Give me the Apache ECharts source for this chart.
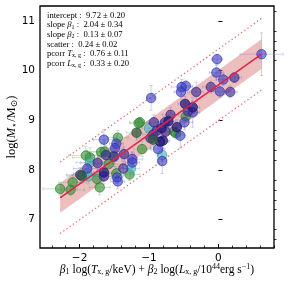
<!DOCTYPE html>
<html><head><meta charset="utf-8">
<script src="https://cdn.jsdelivr.net/npm/echarts@6/dist/echarts.min.js"></script>
<style>html,body{margin:0;padding:0;background:#fff}#c{width:288px;height:287px}</style>
</head><body><div id="c"></div>
<script>
// ---- data ----
const xTicks = [-2, -1, 0];
const yTicks = [7, 8, 9, 10, 11];
const fitX = [-2.28, 0.62];
const fitY = [7.44, 10.33];
const bandHalfWidth = 0.30;
const scatterBand = 0.72;

const blueX  = [0.62,-0.02,-0.03,0.07,0.02,-0.97,-0.47,-0.53,-0.54,-0.37,-0.49,-0.55,-0.87,-0.81,-1.24,-1.24,-1.47,-1.49,-1.46,-1.45,-1.65,-1.89];
const blueY  = [10.33,10.23,9.96,9.82,9.58,9.45,9.69,9.67,9.57,9.16,8.96,8.69,8.42,8.18,8.22,8.15,8.53,8.44,7.85,7.77,8.61,8.03];
const blueXe = [0.31,0.08,0.10,0.10,0.12,0.05,0.10,0.15,0.10,0.10,0.12,0.08,0.10,0.06,0.15,0.10,0.10,0.12,0.08,0.10,0.15,0.20];
const blueYe = [0.43,0.10,0.15,0.12,0.12,0.25,0.12,0.15,0.20,0.30,0.15,0.25,0.20,0.25,0.15,0.20,0.15,0.20,0.12,0.15,0.20,0.20];

const purpX  = [0.23,-0.11,0.17,-0.32,-0.44,-0.69,-0.77,-0.76,-0.93,-0.89,-0.94,-0.98,-1.36,-1.37,-1.50,-1.62,-1.74,-1.65,-1.99];
const purpY  = [9.86,9.67,9.57,9.57,9.18,9.11,8.96,8.77,8.96,8.79,8.71,8.64,8.32,8.03,8.27,8.30,8.14,7.87,7.90];
const purpXe = [0.10,0.12,0.10,0.10,0.10,0.12,0.10,0.15,0.10,0.12,0.15,0.20,0.15,0.12,0.15,0.20,0.25,0.15,0.20];
const purpYe = [0.10,0.12,0.12,0.20,0.12,0.15,0.12,0.15,0.15,0.18,0.15,0.20,0.15,0.15,0.20,0.20,0.20,0.15,0.15];

const navyX  = [-0.48,-0.37,-0.60,-0.72,-0.82,-0.80,-0.84,-1.65];
const navyY  = [9.33,9.26,8.86,8.98,8.84,8.59,8.57,7.95];
const navyXe = [0.10,0.10,0.12,0.10,0.10,0.10,0.12,0.15];
const navyYe = [0.15,0.12,0.15,0.12,0.15,0.15,0.15,0.15];

const greenX  = [-0.47,-0.64,-0.61,-1.13,-1.15,-1.10,-1.28,-1.45,-1.52,-1.58,-1.47,-1.64,-1.69,-1.75,-1.71,-1.85,-1.91,-2.10,-2.13,-2.28];
const greenY  = [9.08,8.77,8.74,8.96,8.94,8.42,7.91,8.65,8.27,8.12,7.93,8.37,8.36,7.82,7.65,8.25,8.29,7.75,7.60,7.62];
const greenXe = [0.08,0.10,0.10,0.15,0.12,0.12,0.15,0.15,0.20,0.20,0.15,0.25,0.20,0.20,0.15,0.25,0.25,0.20,0.20,0.25];
const greenYe = [0.10,0.12,0.12,0.10,0.10,0.15,0.12,0.15,0.20,0.20,0.15,0.20,0.18,0.20,0.15,0.20,0.18,0.15,0.12,0.12];

const olivX  = [-0.94,-1.18,-1.97];
const olivY  = [8.61,8.75,7.88];
const olivXe = [0.10,0.15,0.20];
const olivYe = [0.15,0.15,0.15];

const tealX  = [-0.81,-1.26,-1.85,-1.89,-1.87,-1.00];
const tealY  = [8.30,8.03,8.15,7.93,7.87,8.84];
const tealXe = [0.06,0.12,0.20,0.20,0.15,0.10];
const tealYe = [0.20,0.15,0.15,0.15,0.15,0.15];

const groups = [
  {name:'green', X:greenX, Y:greenY, XE:greenXe, YE:greenYe, fill:'rgba(55,145,55,0.62)', edge:'rgba(40,120,40,0.8)', err:'rgba(110,175,110,0.35)'},
  {name:'teal',  X:tealX,  Y:tealY,  XE:tealXe,  YE:tealYe,  fill:'rgba(75,185,190,0.62)', edge:'rgba(50,155,165,0.8)', err:'rgba(100,180,190,0.35)'},
  {name:'blue',  X:blueX,  Y:blueY,  XE:blueXe,  YE:blueYe,  fill:'rgba(60,60,195,0.62)', edge:'rgba(45,45,170,0.8)', err:'rgba(120,120,215,0.35)'},
  {name:'purp',  X:purpX,  Y:purpY,  XE:purpXe,  YE:purpYe,  fill:'rgba(65,45,150,0.65)', edge:'rgba(50,35,130,0.8)', err:'rgba(130,120,210,0.35)'},
  {name:'navy',  X:navyX,  Y:navyY,  XE:navyXe,  YE:navyYe,  fill:'rgba(35,25,125,0.75)', edge:'rgba(25,15,100,0.85)', err:'rgba(120,120,210,0.35)'},
  {name:'oliv',  X:olivX,  Y:olivY,  XE:olivXe,  YE:olivYe,  fill:'rgba(45,95,60,0.75)', edge:'rgba(35,75,45,0.85)', err:'rgba(110,170,110,0.35)'}
];

// ---- chart ----
const chart = echarts.init(document.getElementById('c'), null, {renderer:'canvas'});
const serif = '"Liberation Serif","DejaVu Serif",serif';
const sans = '"DejaVu Sans",sans-serif';
const XMIN=-2.57, XMAX=0.80, YMIN=6.43, YMAX=11.3;
const G = {left:40, right:14, top:6, bottom:39};
const gridW = 288 - G.left - G.right, gridH = 287 - G.top - G.bottom;
function minors(a,b,step){const r=[];for(let v=Math.ceil(a/step-1e-9)*step;v<=b+1e-9;v+=step){const k=Math.round(v*100)/100;if(Math.abs(k-Math.round(k))>1e-6)r.push(k);}return r;}

const series = [];
// band
series.push({
  type:'custom', z:1, silent:true,
  data:[[fitX[0],fitY[0],fitX[1],fitY[1]]],
  renderItem:function(p,api){
    const x0=api.value(0),y0=api.value(1),x1=api.value(2),y1=api.value(3);
    const pts=[api.coord([x0,y0+bandHalfWidth]),api.coord([x1,y1+bandHalfWidth]),api.coord([x1,y1-bandHalfWidth]),api.coord([x0,y0-bandHalfWidth])];
    return {type:'polygon',shape:{points:pts},style:{fill:'rgba(215,110,110,0.45)'}};
  }
});
// error bars
groups.forEach(g=>{
  const data=g.X.map((x,i)=>[x,g.Y[i],g.XE[i],g.YE[i]]);
  series.push({
    type:'custom', z:2, silent:true, data:data,
    renderItem:function(p,api){
      const x=api.value(0),y=api.value(1),xe=api.value(2),ye=api.value(3);
      const l=api.coord([x-xe,y]),r=api.coord([x+xe,y]),t=api.coord([x,y+ye]),b=api.coord([x,y-ye]);
      const st={stroke:g.err,lineWidth:1};
      const c=1.6;
      return {type:'group',children:[
        {type:'line',shape:{x1:l[0],y1:l[1],x2:r[0],y2:r[1]},style:st},
        {type:'line',shape:{x1:t[0],y1:t[1],x2:b[0],y2:b[1]},style:st},
        {type:'line',shape:{x1:l[0],y1:l[1]-c,x2:l[0],y2:l[1]+c},style:st},
        {type:'line',shape:{x1:r[0],y1:r[1]-c,x2:r[0],y2:r[1]+c},style:st},
        {type:'line',shape:{x1:t[0]-c,y1:t[1],x2:t[0]+c,y2:t[1]},style:st},
        {type:'line',shape:{x1:b[0]-c,y1:b[1],x2:b[0]+c,y2:b[1]},style:st}
      ]};
    }
  });
});
// dotted scatter lines
[scatterBand,-scatterBand].forEach(o=>{
  series.push({type:'line', z:3, silent:true, symbol:'none',
    data:fitX.map((x,i)=>[x,fitY[i]+o]),
    lineStyle:{color:'#e46a6a',width:1.3,type:[1.3,2.6]}});
});
// points
groups.forEach(g=>{
  series.push({type:'scatter', z:4, symbolSize:9.5,
    data:g.X.map((x,i)=>[x,g.Y[i]]),
    itemStyle:{color:g.fill,borderColor:g.edge,borderWidth:0.8,opacity:1}});
});
// fit line
series.push({type:'line', z:5, silent:true, symbol:'none', data:fitX.map((x,i)=>[x,fitY[i]]),
  lineStyle:{color:'#e0264a',width:1.6}});

const rich = {
  r:{fontFamily:serif,fontSize:8.6,color:'#000'},
  i:{fontFamily:serif,fontSize:8.6,fontStyle:'italic',color:'#000'},
  s:{fontFamily:serif,fontSize:6,color:'#000',padding:[4,0,0,0]}
};
const lines = [
  '{r|intercept :  9.72 ± 0.20}',
  '{r|slope }{i|β}{s|1}{r| :  2.04 ± 0.34}',
  '{r|slope }{i|β}{s|2}{r| :  0.13 ± 0.07}',
  '{r|scatter :  0.24 ± 0.02}',
  '{r|pcorr }{i|T}{s|x, g}{r| :  0.76 ± 0.11}',
  '{r|pcorr }{i|L}{s|x, g}{r| :  0.33 ± 0.20}'
];

chart.setOption({
  animation:false,
  grid:{left:G.left,right:G.right,top:G.top,bottom:G.bottom,outerBoundsMode:'none',containLabel:false,
        show:true,borderColor:'#000',borderWidth:1.3,backgroundColor:'transparent'},
  xAxis:[{
    type:'value',min:XMIN,max:XMAX,position:'bottom',
    axisLine:{show:false},splitLine:{show:false},
    axisTick:{show:true,inside:true,length:4,lineStyle:{color:'#000',width:1},customValues:xTicks},
    axisLabel:{customValues:xTicks,fontFamily:sans,fontSize:10.5,color:'#000',margin:5,formatter:v=>String(v).replace('-','−')},
    name:'{i|β}{s|1}{r| log(}{i|T}{s|x, g}{r|/keV) + }{i|β}{s|2}{r| log(}{i|L}{s|x, g}{r|/10}{u|44}{r|erg s}{u|−1}{r|)}',
    nameLocation:'middle',nameGap:15,nameMoveOverlap:false,
    nameTextStyle:{rich:{
      r:{fontFamily:serif,fontSize:11.5,color:'#000'},
      i:{fontFamily:serif,fontSize:11.5,fontStyle:'italic',color:'#000'},
      s:{fontFamily:serif,fontSize:8,color:'#000',padding:[5,0,0,0]},
      u:{fontFamily:serif,fontSize:8,color:'#000',padding:[0,0,5,0]}
    }}
  },{
    // minor ticks: this axis sits on top by default, shifted down onto the bottom edge
    type:'value',min:XMIN,max:XMAX,position:'top',offset:-gridH,
    axisLine:{show:false},splitLine:{show:false},axisLabel:{show:false},
    axisTick:{show:true,inside:false,length:2.5,lineStyle:{color:'#000',width:0.8},customValues:minors(XMIN,XMAX,0.2)}
  }],
  yAxis:[{
    type:'value',min:YMIN,max:YMAX,position:'left',
    axisLine:{show:false},splitLine:{show:false},
    axisTick:{show:true,inside:true,length:4,lineStyle:{color:'#000',width:1},customValues:yTicks},
    axisLabel:{customValues:yTicks,fontFamily:sans,fontSize:10.5,color:'#000',margin:5},
    name:'{r|log(}{i|M}{s|⋆}{r|/M}{s|⊙}{r|)}',
    nameLocation:'middle',nameGap:21,nameRotate:90,nameMoveOverlap:false,
    nameTextStyle:{rich:{
      r:{fontFamily:serif,fontSize:12.5,color:'#000'},
      i:{fontFamily:serif,fontSize:12.5,fontStyle:'italic',color:'#000'},
      s:{fontFamily:serif,fontSize:9,color:'#000',padding:[5,0,0,0]}
    }}
  },{
    type:'value',min:YMIN,max:YMAX,position:'right',offset:-gridW,
    axisLine:{show:false},splitLine:{show:false},axisLabel:{show:false},
    axisTick:{show:true,inside:false,length:2.5,lineStyle:{color:'#000',width:0.8},customValues:minors(YMIN,YMAX,0.2)}
  }],
  graphic:lines.map((t,i)=>({type:'text',left:47,top:11+i*9.6,z:10,style:{text:t,rich:rich}})),
  series:series
});
</script></body></html>
